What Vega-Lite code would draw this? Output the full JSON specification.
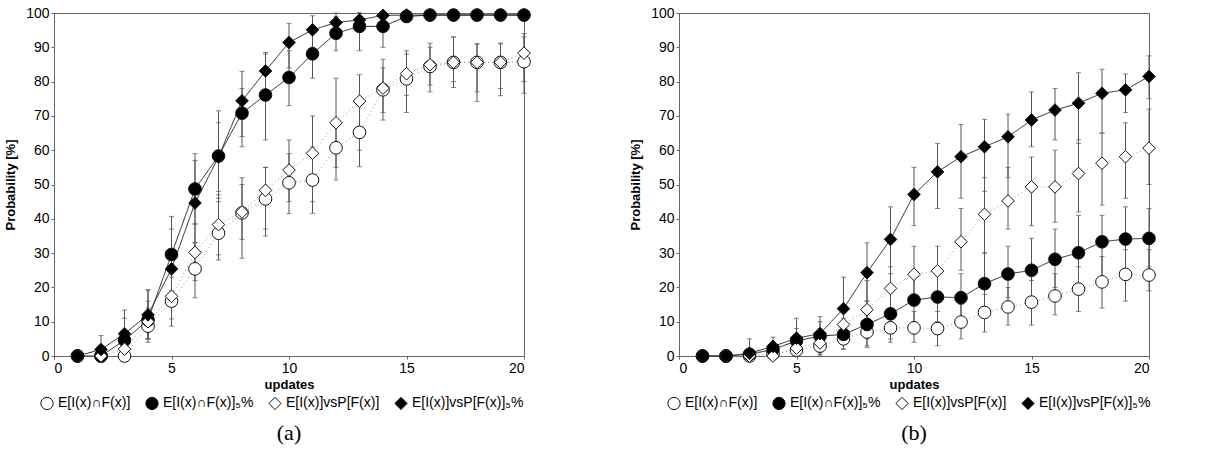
{
  "$schema": "https://vega.github.io/schema/vega-lite/v6.json",
  "background": "white",
  "padding": {"left": 4, "top": 5, "right": 0, "bottom": 0},
  "spacing": 96,
  "datasets": {
    "d": [
      {"p": "a", "s": "A", "x": 1, "y": 0, "lo": 0, "hi": 0},
      {"p": "a", "s": "A", "x": 2, "y": 0, "lo": 0, "hi": 0},
      {"p": "a", "s": "A", "x": 3, "y": 0, "lo": 0, "hi": 2},
      {"p": "a", "s": "A", "x": 4, "y": 8.7, "lo": 4, "hi": 14},
      {"p": "a", "s": "A", "x": 5, "y": 16, "lo": 8.7, "hi": 23},
      {"p": "a", "s": "A", "x": 6, "y": 25.4, "lo": 17, "hi": 33},
      {"p": "a", "s": "A", "x": 7, "y": 35.8, "lo": 28, "hi": 46},
      {"p": "a", "s": "A", "x": 8, "y": 41.7, "lo": 28.5, "hi": 52},
      {"p": "a", "s": "A", "x": 9, "y": 45.8, "lo": 35, "hi": 55},
      {"p": "a", "s": "A", "x": 10, "y": 50.5, "lo": 41.5, "hi": 59},
      {"p": "a", "s": "A", "x": 11, "y": 51.3, "lo": 41.6, "hi": 61},
      {"p": "a", "s": "A", "x": 12, "y": 60.7, "lo": 51.3, "hi": 68},
      {"p": "a", "s": "A", "x": 13, "y": 65.2, "lo": 55.2, "hi": 75},
      {"p": "a", "s": "A", "x": 14, "y": 77.6, "lo": 68.8, "hi": 84},
      {"p": "a", "s": "A", "x": 15, "y": 80.8, "lo": 71, "hi": 88},
      {"p": "a", "s": "A", "x": 16, "y": 84.4, "lo": 77, "hi": 90},
      {"p": "a", "s": "A", "x": 17, "y": 85.6, "lo": 78.3, "hi": 93},
      {"p": "a", "s": "A", "x": 18, "y": 85.6, "lo": 74.2, "hi": 91},
      {"p": "a", "s": "A", "x": 19, "y": 85.6, "lo": 75.9, "hi": 91},
      {"p": "a", "s": "A", "x": 20, "y": 85.8, "lo": 76.6, "hi": 93},
      {"p": "a", "s": "B", "x": 1, "y": 0, "lo": 0, "hi": 0},
      {"p": "a", "s": "B", "x": 2, "y": 0, "lo": 0, "hi": 1},
      {"p": "a", "s": "B", "x": 3, "y": 4.6, "lo": 0.5, "hi": 11},
      {"p": "a", "s": "B", "x": 4, "y": 10.5, "lo": 5, "hi": 19},
      {"p": "a", "s": "B", "x": 5, "y": 29.6, "lo": 19, "hi": 40.7},
      {"p": "a", "s": "B", "x": 6, "y": 48.7, "lo": 38.5, "hi": 59},
      {"p": "a", "s": "B", "x": 7, "y": 58.3, "lo": 45, "hi": 71.5},
      {"p": "a", "s": "B", "x": 8, "y": 70.8, "lo": 61, "hi": 78},
      {"p": "a", "s": "B", "x": 9, "y": 76.1, "lo": 63, "hi": 88},
      {"p": "a", "s": "B", "x": 10, "y": 81.2, "lo": 73, "hi": 89},
      {"p": "a", "s": "B", "x": 11, "y": 88.1, "lo": 81, "hi": 95},
      {"p": "a", "s": "B", "x": 12, "y": 94.1, "lo": 89, "hi": 99},
      {"p": "a", "s": "B", "x": 13, "y": 96.1, "lo": 89, "hi": 100},
      {"p": "a", "s": "B", "x": 14, "y": 96.1, "lo": 90, "hi": 100},
      {"p": "a", "s": "B", "x": 15, "y": 99, "lo": 97.2, "hi": 100},
      {"p": "a", "s": "B", "x": 16, "y": 99.4, "lo": 98, "hi": 100},
      {"p": "a", "s": "B", "x": 17, "y": 99.4, "lo": 98, "hi": 100},
      {"p": "a", "s": "B", "x": 18, "y": 99.4, "lo": 98, "hi": 100},
      {"p": "a", "s": "B", "x": 19, "y": 99.4, "lo": 98, "hi": 100},
      {"p": "a", "s": "B", "x": 20, "y": 99.4, "lo": 98, "hi": 100},
      {"p": "a", "s": "C", "x": 1, "y": 0, "lo": 0, "hi": 0},
      {"p": "a", "s": "C", "x": 2, "y": 0, "lo": 0, "hi": 0},
      {"p": "a", "s": "C", "x": 3, "y": 2, "lo": 0, "hi": 5},
      {"p": "a", "s": "C", "x": 4, "y": 10, "lo": 5, "hi": 16},
      {"p": "a", "s": "C", "x": 5, "y": 17.4, "lo": 10.8, "hi": 24},
      {"p": "a", "s": "C", "x": 6, "y": 30.2, "lo": 22, "hi": 38.5},
      {"p": "a", "s": "C", "x": 7, "y": 38.3, "lo": 29.5, "hi": 47},
      {"p": "a", "s": "C", "x": 8, "y": 42, "lo": 34, "hi": 50},
      {"p": "a", "s": "C", "x": 9, "y": 48.3, "lo": 37, "hi": 55},
      {"p": "a", "s": "C", "x": 10, "y": 54.2, "lo": 45, "hi": 63},
      {"p": "a", "s": "C", "x": 11, "y": 59.1, "lo": 45, "hi": 70},
      {"p": "a", "s": "C", "x": 12, "y": 68, "lo": 55, "hi": 81},
      {"p": "a", "s": "C", "x": 13, "y": 74.3, "lo": 60, "hi": 82},
      {"p": "a", "s": "C", "x": 14, "y": 78.1, "lo": 71, "hi": 86.5},
      {"p": "a", "s": "C", "x": 15, "y": 82.3, "lo": 76, "hi": 89},
      {"p": "a", "s": "C", "x": 16, "y": 84.9, "lo": 79, "hi": 91.2},
      {"p": "a", "s": "C", "x": 17, "y": 85.6, "lo": 80, "hi": 93},
      {"p": "a", "s": "C", "x": 18, "y": 85.6, "lo": 77, "hi": 91},
      {"p": "a", "s": "C", "x": 19, "y": 85.6, "lo": 78, "hi": 91.2},
      {"p": "a", "s": "C", "x": 20, "y": 88.3, "lo": 80, "hi": 94},
      {"p": "a", "s": "D", "x": 1, "y": 0, "lo": 0, "hi": 0},
      {"p": "a", "s": "D", "x": 2, "y": 1.9, "lo": 0, "hi": 6},
      {"p": "a", "s": "D", "x": 3, "y": 6.5, "lo": 0, "hi": 13.4},
      {"p": "a", "s": "D", "x": 4, "y": 12, "lo": 5, "hi": 19.4},
      {"p": "a", "s": "D", "x": 5, "y": 25.4, "lo": 16, "hi": 37},
      {"p": "a", "s": "D", "x": 6, "y": 44.6, "lo": 33, "hi": 57},
      {"p": "a", "s": "D", "x": 7, "y": 58, "lo": 48, "hi": 68},
      {"p": "a", "s": "D", "x": 8, "y": 74.4, "lo": 64, "hi": 83},
      {"p": "a", "s": "D", "x": 9, "y": 83.1, "lo": 77, "hi": 88.5},
      {"p": "a", "s": "D", "x": 10, "y": 91.4, "lo": 84, "hi": 97},
      {"p": "a", "s": "D", "x": 11, "y": 95.1, "lo": 90, "hi": 99.2},
      {"p": "a", "s": "D", "x": 12, "y": 97.2, "lo": 94, "hi": 100},
      {"p": "a", "s": "D", "x": 13, "y": 98, "lo": 95, "hi": 100},
      {"p": "a", "s": "D", "x": 14, "y": 99.3, "lo": 97, "hi": 100},
      {"p": "a", "s": "D", "x": 15, "y": 99.4, "lo": 98, "hi": 100},
      {"p": "a", "s": "D", "x": 16, "y": 99.4, "lo": 98, "hi": 100},
      {"p": "a", "s": "D", "x": 17, "y": 99.4, "lo": 98, "hi": 100},
      {"p": "a", "s": "D", "x": 18, "y": 99.4, "lo": 98, "hi": 100},
      {"p": "a", "s": "D", "x": 19, "y": 99.4, "lo": 98, "hi": 100},
      {"p": "a", "s": "D", "x": 20, "y": 99.4, "lo": 98, "hi": 100},
      {"p": "b", "s": "A", "x": 1, "y": 0, "lo": 0, "hi": 0},
      {"p": "b", "s": "A", "x": 2, "y": 0, "lo": 0, "hi": 0},
      {"p": "b", "s": "A", "x": 3, "y": 0, "lo": 0, "hi": 0},
      {"p": "b", "s": "A", "x": 4, "y": 0.7, "lo": 0, "hi": 2},
      {"p": "b", "s": "A", "x": 5, "y": 1.7, "lo": 0, "hi": 4},
      {"p": "b", "s": "A", "x": 6, "y": 2.9, "lo": 0.5, "hi": 6},
      {"p": "b", "s": "A", "x": 7, "y": 5, "lo": 2, "hi": 9},
      {"p": "b", "s": "A", "x": 8, "y": 7, "lo": 2.5, "hi": 12},
      {"p": "b", "s": "A", "x": 9, "y": 8.2, "lo": 4, "hi": 13},
      {"p": "b", "s": "A", "x": 10, "y": 8.2, "lo": 4, "hi": 13},
      {"p": "b", "s": "A", "x": 11, "y": 8, "lo": 3, "hi": 13},
      {"p": "b", "s": "A", "x": 12, "y": 9.9, "lo": 5, "hi": 15},
      {"p": "b", "s": "A", "x": 13, "y": 12.7, "lo": 7, "hi": 18},
      {"p": "b", "s": "A", "x": 14, "y": 14.3, "lo": 9, "hi": 20},
      {"p": "b", "s": "A", "x": 15, "y": 15.7, "lo": 9, "hi": 22},
      {"p": "b", "s": "A", "x": 16, "y": 17.5, "lo": 12, "hi": 24},
      {"p": "b", "s": "A", "x": 17, "y": 19.5, "lo": 13, "hi": 26},
      {"p": "b", "s": "A", "x": 18, "y": 21.6, "lo": 14, "hi": 29},
      {"p": "b", "s": "A", "x": 19, "y": 23.8, "lo": 16, "hi": 31},
      {"p": "b", "s": "A", "x": 20, "y": 23.6, "lo": 19, "hi": 31},
      {"p": "b", "s": "B", "x": 1, "y": 0, "lo": 0, "hi": 0},
      {"p": "b", "s": "B", "x": 2, "y": 0, "lo": 0, "hi": 0},
      {"p": "b", "s": "B", "x": 3, "y": 0.5, "lo": 0, "hi": 2},
      {"p": "b", "s": "B", "x": 4, "y": 1.9, "lo": 0, "hi": 4},
      {"p": "b", "s": "B", "x": 5, "y": 4.4, "lo": 1, "hi": 8},
      {"p": "b", "s": "B", "x": 6, "y": 5.8, "lo": 2, "hi": 10},
      {"p": "b", "s": "B", "x": 7, "y": 6.3, "lo": 2, "hi": 11},
      {"p": "b", "s": "B", "x": 8, "y": 9.2, "lo": 3, "hi": 16},
      {"p": "b", "s": "B", "x": 9, "y": 12.3, "lo": 5, "hi": 19},
      {"p": "b", "s": "B", "x": 10, "y": 16.3, "lo": 10, "hi": 24},
      {"p": "b", "s": "B", "x": 11, "y": 17.2, "lo": 10, "hi": 24},
      {"p": "b", "s": "B", "x": 12, "y": 17, "lo": 10, "hi": 24},
      {"p": "b", "s": "B", "x": 13, "y": 21.1, "lo": 14, "hi": 30},
      {"p": "b", "s": "B", "x": 14, "y": 23.9, "lo": 17, "hi": 32},
      {"p": "b", "s": "B", "x": 15, "y": 25, "lo": 15, "hi": 34.3},
      {"p": "b", "s": "B", "x": 16, "y": 28.2, "lo": 20, "hi": 37},
      {"p": "b", "s": "B", "x": 17, "y": 30.1, "lo": 21, "hi": 41},
      {"p": "b", "s": "B", "x": 18, "y": 33.3, "lo": 23, "hi": 41},
      {"p": "b", "s": "B", "x": 19, "y": 34.1, "lo": 25, "hi": 43.5},
      {"p": "b", "s": "B", "x": 20, "y": 34.3, "lo": 26, "hi": 43},
      {"p": "b", "s": "C", "x": 1, "y": 0, "lo": 0, "hi": 0},
      {"p": "b", "s": "C", "x": 2, "y": 0, "lo": 0, "hi": 0},
      {"p": "b", "s": "C", "x": 3, "y": 0, "lo": 0, "hi": 0},
      {"p": "b", "s": "C", "x": 4, "y": 0, "lo": 0, "hi": 1},
      {"p": "b", "s": "C", "x": 5, "y": 2.3, "lo": 0, "hi": 5},
      {"p": "b", "s": "C", "x": 6, "y": 3.8, "lo": 0, "hi": 8},
      {"p": "b", "s": "C", "x": 7, "y": 9.2, "lo": 4, "hi": 15},
      {"p": "b", "s": "C", "x": 8, "y": 13.5, "lo": 5, "hi": 22},
      {"p": "b", "s": "C", "x": 9, "y": 19.7, "lo": 10, "hi": 26},
      {"p": "b", "s": "C", "x": 10, "y": 23.8, "lo": 16, "hi": 32},
      {"p": "b", "s": "C", "x": 11, "y": 24.8, "lo": 16, "hi": 32},
      {"p": "b", "s": "C", "x": 12, "y": 33.3, "lo": 25, "hi": 43},
      {"p": "b", "s": "C", "x": 13, "y": 41.3, "lo": 30, "hi": 52},
      {"p": "b", "s": "C", "x": 14, "y": 45.2, "lo": 37, "hi": 55},
      {"p": "b", "s": "C", "x": 15, "y": 49.3, "lo": 38, "hi": 58},
      {"p": "b", "s": "C", "x": 16, "y": 49.3, "lo": 39, "hi": 60},
      {"p": "b", "s": "C", "x": 17, "y": 53.2, "lo": 42, "hi": 63},
      {"p": "b", "s": "C", "x": 18, "y": 56.2, "lo": 44, "hi": 65},
      {"p": "b", "s": "C", "x": 19, "y": 58.1, "lo": 46, "hi": 68},
      {"p": "b", "s": "C", "x": 20, "y": 60.6, "lo": 50, "hi": 72},
      {"p": "b", "s": "D", "x": 1, "y": 0, "lo": 0, "hi": 0},
      {"p": "b", "s": "D", "x": 2, "y": 0, "lo": 0, "hi": 0},
      {"p": "b", "s": "D", "x": 3, "y": 0.8, "lo": 0, "hi": 5},
      {"p": "b", "s": "D", "x": 4, "y": 2.8, "lo": 0, "hi": 5.5},
      {"p": "b", "s": "D", "x": 5, "y": 5.2, "lo": 0.5, "hi": 11},
      {"p": "b", "s": "D", "x": 6, "y": 6.5, "lo": 1, "hi": 11.5},
      {"p": "b", "s": "D", "x": 7, "y": 13.8, "lo": 5, "hi": 23},
      {"p": "b", "s": "D", "x": 8, "y": 24.3, "lo": 16, "hi": 33},
      {"p": "b", "s": "D", "x": 9, "y": 34, "lo": 24, "hi": 43.5},
      {"p": "b", "s": "D", "x": 10, "y": 47.1, "lo": 38, "hi": 55},
      {"p": "b", "s": "D", "x": 11, "y": 53.7, "lo": 43, "hi": 62},
      {"p": "b", "s": "D", "x": 12, "y": 58.1, "lo": 46, "hi": 67.5},
      {"p": "b", "s": "D", "x": 13, "y": 61, "lo": 48, "hi": 69},
      {"p": "b", "s": "D", "x": 14, "y": 63.9, "lo": 52, "hi": 70.5},
      {"p": "b", "s": "D", "x": 15, "y": 68.8, "lo": 61, "hi": 77},
      {"p": "b", "s": "D", "x": 16, "y": 71.7, "lo": 63, "hi": 78},
      {"p": "b", "s": "D", "x": 17, "y": 73.7, "lo": 62, "hi": 82.6},
      {"p": "b", "s": "D", "x": 18, "y": 76.6, "lo": 65, "hi": 83.6},
      {"p": "b", "s": "D", "x": 19, "y": 77.6, "lo": 71, "hi": 82.2},
      {"p": "b", "s": "D", "x": 20, "y": 81.5, "lo": 75, "hi": 87.5}
    ]
  },
  "data": {"name": "d"},
  "transform": [
    {"lookup": "s", "from": {"data": {"values": [
      {"s": "A", "label": "E[I(x)∩F(x)]"},
      {"s": "B", "label": "E[I(x)∩F(x)]₅%"},
      {"s": "C", "label": "E[I(x)]vsP[F(x)]"},
      {"s": "D", "label": "E[I(x)]vsP[F(x)]₅%"}
    ]}, "key": "s", "fields": ["label"]}}
  ],
  "hconcat": [
    {
      "width": 470,
      "height": 343,
      "transform": [{"filter": "datum.p == 'a'"}],
      "title": {"text": "(a)", "orient": "bottom", "anchor": "middle", "font": "Liberation Serif", "fontSize": 22, "fontWeight": "normal", "offset": 11},
      "layer": [
        {
          "mark": {"type": "errorbar", "ticks": true, "color": "#555", "thickness": 1},
          "encoding": {
            "x": {"field": "x", "type": "quantitative", "title": "updates", "scale": {"domain": [0, 20], "nice": false}, "axis": {"values": [0, 5, 10, 15, 20]}},
            "y": {"field": "lo", "type": "quantitative", "title": "Probability [%]", "scale": {"domain": [0, 100], "nice": false}, "axis": {"values": [0, 10, 20, 30, 40, 50, 60, 70, 80, 90, 100], "labelOverlap": false}},
            "y2": {"field": "hi"}
          }
        },
        {
          "mark": {"type": "line", "strokeWidth": 1},
          "encoding": {
            "x": {"field": "x", "type": "quantitative", "title": "updates", "axis": {"values": [0, 5, 10, 15, 20]}},
            "y": {"field": "y", "type": "quantitative", "title": "Probability [%]", "axis": {"values": [0, 10, 20, 30, 40, 50, 60, 70, 80, 90, 100], "labelOverlap": false}},
            "detail": {"field": "s"},
            "color": {"field": "label", "type": "nominal", "legend": null, "scale": {"domain": ["E[I(x)∩F(x)]", "E[I(x)∩F(x)]₅%", "E[I(x)]vsP[F(x)]", "E[I(x)]vsP[F(x)]₅%"], "range": ["#999", "#222", "#999", "#222"]}},
            "strokeDash": {"field": "label", "type": "nominal", "legend": null, "scale": {"domain": ["E[I(x)∩F(x)]", "E[I(x)∩F(x)]₅%", "E[I(x)]vsP[F(x)]", "E[I(x)]vsP[F(x)]₅%"], "range": [[1, 3], [1, 0], [1, 3], [1, 0]]}}
          }
        },
        {
          "mark": {"type": "point", "opacity": 1, "strokeWidth": 1, "size": 160},
          "encoding": {
            "x": {"field": "x", "type": "quantitative", "title": "updates", "axis": {"values": [0, 5, 10, 15, 20]}},
            "y": {"field": "y", "type": "quantitative", "title": "Probability [%]", "axis": {"values": [0, 10, 20, 30, 40, 50, 60, 70, 80, 90, 100], "labelOverlap": false}},
            "shape": {"field": "label", "type": "nominal", "title": null, "legend": {"orient": "none", "legendX": -14, "legendY": 383, "direction": "horizontal"}, "scale": {"domain": ["E[I(x)∩F(x)]", "E[I(x)∩F(x)]₅%", "E[I(x)]vsP[F(x)]", "E[I(x)]vsP[F(x)]₅%"], "range": ["circle", "circle", "diamond", "diamond"]}},
            "fill": {"field": "label", "type": "nominal", "title": null, "legend": {"orient": "none", "legendX": -14, "legendY": 383, "direction": "horizontal"}, "scale": {"domain": ["E[I(x)∩F(x)]", "E[I(x)∩F(x)]₅%", "E[I(x)]vsP[F(x)]", "E[I(x)]vsP[F(x)]₅%"], "range": ["white", "black", "white", "black"]}},
            "stroke": {"field": "label", "type": "nominal", "title": null, "legend": {"orient": "none", "legendX": -14, "legendY": 383, "direction": "horizontal"}, "scale": {"domain": ["E[I(x)∩F(x)]", "E[I(x)∩F(x)]₅%", "E[I(x)]vsP[F(x)]", "E[I(x)]vsP[F(x)]₅%"], "range": ["#111", "#111", "#111", "#111"]}}
          }
        }
      ]
    },
    {
      "width": 470,
      "height": 343,
      "transform": [{"filter": "datum.p == 'b'"}],
      "title": {"text": "(b)", "orient": "bottom", "anchor": "middle", "font": "Liberation Serif", "fontSize": 22, "fontWeight": "normal", "offset": 11},
      "layer": [
        {
          "mark": {"type": "errorbar", "ticks": true, "color": "#555", "thickness": 1},
          "encoding": {
            "x": {"field": "x", "type": "quantitative", "title": "updates", "scale": {"domain": [0, 20], "nice": false}, "axis": {"values": [0, 5, 10, 15, 20]}},
            "y": {"field": "lo", "type": "quantitative", "title": "Probability [%]", "scale": {"domain": [0, 100], "nice": false}, "axis": {"values": [0, 10, 20, 30, 40, 50, 60, 70, 80, 90, 100], "labelOverlap": false}},
            "y2": {"field": "hi"}
          }
        },
        {
          "mark": {"type": "line", "strokeWidth": 1},
          "encoding": {
            "x": {"field": "x", "type": "quantitative", "title": "updates", "axis": {"values": [0, 5, 10, 15, 20]}},
            "y": {"field": "y", "type": "quantitative", "title": "Probability [%]", "axis": {"values": [0, 10, 20, 30, 40, 50, 60, 70, 80, 90, 100], "labelOverlap": false}},
            "detail": {"field": "s"},
            "color": {"field": "label", "type": "nominal", "legend": null, "scale": {"domain": ["E[I(x)∩F(x)]", "E[I(x)∩F(x)]₅%", "E[I(x)]vsP[F(x)]", "E[I(x)]vsP[F(x)]₅%"], "range": ["#999", "#222", "#999", "#222"]}},
            "strokeDash": {"field": "label", "type": "nominal", "legend": null, "scale": {"domain": ["E[I(x)∩F(x)]", "E[I(x)∩F(x)]₅%", "E[I(x)]vsP[F(x)]", "E[I(x)]vsP[F(x)]₅%"], "range": [[1, 3], [1, 0], [1, 3], [1, 0]]}}
          }
        },
        {
          "mark": {"type": "point", "opacity": 1, "strokeWidth": 1, "size": 160},
          "encoding": {
            "x": {"field": "x", "type": "quantitative", "title": "updates", "axis": {"values": [0, 5, 10, 15, 20]}},
            "y": {"field": "y", "type": "quantitative", "title": "Probability [%]", "axis": {"values": [0, 10, 20, 30, 40, 50, 60, 70, 80, 90, 100], "labelOverlap": false}},
            "shape": {"field": "label", "type": "nominal", "title": null, "legend": {"orient": "none", "legendX": -12, "legendY": 383, "direction": "horizontal"}, "scale": {"domain": ["E[I(x)∩F(x)]", "E[I(x)∩F(x)]₅%", "E[I(x)]vsP[F(x)]", "E[I(x)]vsP[F(x)]₅%"], "range": ["circle", "circle", "diamond", "diamond"]}},
            "fill": {"field": "label", "type": "nominal", "title": null, "legend": {"orient": "none", "legendX": -12, "legendY": 383, "direction": "horizontal"}, "scale": {"domain": ["E[I(x)∩F(x)]", "E[I(x)∩F(x)]₅%", "E[I(x)]vsP[F(x)]", "E[I(x)]vsP[F(x)]₅%"], "range": ["white", "black", "white", "black"]}},
            "stroke": {"field": "label", "type": "nominal", "title": null, "legend": {"orient": "none", "legendX": -12, "legendY": 383, "direction": "horizontal"}, "scale": {"domain": ["E[I(x)∩F(x)]", "E[I(x)∩F(x)]₅%", "E[I(x)]vsP[F(x)]", "E[I(x)]vsP[F(x)]₅%"], "range": ["#111", "#111", "#111", "#111"]}}
          }
        }
      ]
    }
  ],
  "resolve": {"legend": {"shape": "independent", "fill": "independent", "stroke": "independent"}},
  "config": {
    "font": "Liberation Sans",
    "view": {"stroke": "#666", "strokeWidth": 1},
    "axis": {
      "grid": false,
      "domainColor": "#666",
      "tickColor": "#666",
      "tickSize": 3,
      "labelFont": "Liberation Sans",
      "labelFontSize": 14,
      "labelColor": "#000",
      "titleFont": "Liberation Sans",
      "titleFontSize": 13,
      "titleFontWeight": "bold",
      "titleColor": "#000",
      "labelPadding": 2
    },
    "axisX": {"titlePadding": 3},
    "axisY": {"titlePadding": 8},
    "legend": {
      "labelFont": "Liberation Sans",
      "labelFontSize": 14,
      "labelColor": "#000",
      "symbolStrokeColor": "#111",
      "symbolStrokeWidth": 1,
      "symbolSize": 150,
      "columnPadding": 12,
      "labelLimit": 300
    }
  }
}
